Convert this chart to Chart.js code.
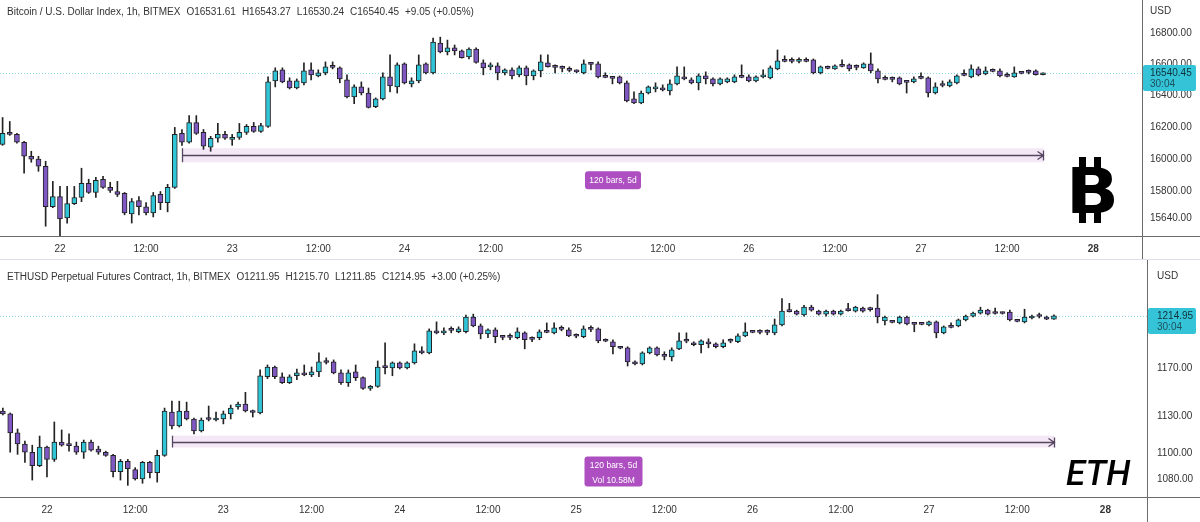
<!DOCTYPE html>
<html>
<head>
<meta charset="utf-8">
<script src="https://cdn.jsdelivr.net/npm/chart.js@4.4.0/dist/chart.umd.min.js"></script>
<style>
  html, body { margin: 0; padding: 0; background: #fff; overflow: hidden; }
  canvas { display: block; }
</style>
</head>
<body>
<canvas id="btcChart" width="1200" height="260"></canvas>
<canvas id="ethChart" width="1200" height="262"></canvas>
<script>
// hours counted from 22 00:00
var hourTicks = [0, 12, 24, 36, 48, 60, 72, 84, 96, 108, 120, 132, 144];
var hourTickLabels = ['22', '12:00', '23', '12:00', '24', '12:00', '25', '12:00', '26', '12:00', '27', '12:00', '28'];

// BTC / DXY, 1h candles, first one at 21 16:00
var btcFirstHour = -8;
var btcOpen = [
  16092, 16161, 16154, 16105, 16018, 16000, 15956, 15708, 15770, 15640,
  15727, 15764, 15851, 15795, 15876, 15826, 15801, 15789, 15665, 15745,
  15708, 15671, 15783, 15733, 15826, 16161, 16105, 16229, 16167, 16074,
  16130, 16154, 16123, 16136, 16167, 16204, 16173, 16204, 16492, 16563,
  16492, 16447, 16480, 16563, 16524, 16544, 16582, 16576, 16499, 16390,
  16454, 16415, 16328, 16378, 16518, 16454, 16601, 16473, 16492, 16601,
  16544, 16736, 16678, 16704, 16685, 16646, 16697, 16608, 16582, 16588,
  16544, 16563, 16531, 16576, 16524, 16556, 16608, 16582, 16576, 16563,
  16553, 16544, 16601, 16601, 16518, 16512, 16518, 16480, 16378, 16353,
  16415, 16441, 16447, 16428, 16473, 16518, 16499, 16480, 16524, 16505,
  16473, 16486, 16486, 16518, 16518, 16492, 16518, 16512, 16569, 16621,
  16621, 16617, 16621, 16627, 16544, 16576, 16569, 16588, 16595, 16582,
  16576, 16601, 16556, 16505, 16505, 16512, 16486, 16486, 16512, 16512,
  16415, 16467, 16460, 16480, 16531, 16518, 16569, 16537, 16556, 16556,
  16524, 16518, 16544, 16550, 16556, 16531.61
];
var btcHigh = [
  16260, 16235, 16161, 16111, 16049, 16018, 15987, 15863, 15832, 15832,
  15832, 15944, 15876, 15888, 15894, 15857, 15863, 15795, 15758, 15770,
  15733, 15795, 15801, 15845, 16198, 16185, 16272, 16272, 16185, 16142,
  16223, 16173, 16154, 16223, 16216, 16229, 16223, 16518, 16576, 16576,
  16512, 16505, 16608, 16608, 16563, 16614, 16614, 16582, 16531, 16467,
  16486, 16447, 16384, 16544, 16659, 16608, 16608, 16512, 16659, 16608,
  16768, 16774, 16755, 16723, 16691, 16704, 16704, 16627, 16608, 16608,
  16569, 16576, 16588, 16588, 16563, 16659, 16659, 16595, 16588, 16582,
  16563, 16627, 16608, 16614, 16544, 16518, 16524, 16492, 16422, 16428,
  16460, 16480, 16467, 16499, 16582, 16582, 16512, 16537, 16550, 16512,
  16512, 16512, 16531, 16595, 16531, 16524, 16563, 16588, 16691, 16653,
  16640, 16640, 16640, 16633, 16588, 16588, 16595, 16627, 16601, 16595,
  16608, 16672, 16569, 16524, 16518, 16518, 16492, 16518, 16544, 16518,
  16480, 16492, 16499, 16531, 16563, 16595, 16582, 16582, 16569, 16569,
  16544, 16582, 16550, 16563, 16563, 16543.27
];
var btcLow = [
  16086, 16148, 16099, 15913, 15981, 15925, 15590, 15702, 15522, 15609,
  15721, 15739, 15789, 15764, 15820, 15795, 15770, 15659, 15609, 15659,
  15659, 15646, 15690, 15677, 15820, 16086, 16099, 16154, 16061, 16049,
  16105, 16123, 16086, 16123, 16154, 16167, 16167, 16198, 16454, 16480,
  16441, 16441, 16467, 16499, 16518, 16531, 16569, 16480, 16384, 16347,
  16403, 16320, 16322, 16371, 16422, 16415, 16473, 16454, 16480, 16537,
  16537, 16672, 16659, 16659, 16638, 16633, 16606, 16531, 16563, 16499,
  16531, 16505, 16518, 16467, 16499, 16518, 16580, 16544, 16550, 16550,
  16544, 16537, 16563, 16512, 16512, 16473, 16473, 16359, 16347, 16347,
  16409, 16422, 16428, 16403, 16467, 16499, 16473, 16435, 16473, 16460,
  16467, 16480, 16480, 16512, 16486, 16486, 16512, 16505, 16563, 16614,
  16608, 16608, 16614, 16537, 16537, 16569, 16566, 16582, 16556, 16563,
  16572, 16544, 16480, 16499, 16486, 16467, 16415, 16480, 16505, 16390,
  16409, 16454, 16454, 16473, 16524, 16512, 16524, 16531, 16550, 16518,
  16518, 16515, 16537, 16537, 16529, 16530.24
];
var btcClose = [
  16161, 16154, 16105, 16018, 16000, 15956, 15708, 15770, 15634, 15727,
  15764, 15851, 15795, 15869, 15826, 15807, 15783, 15671, 15739, 15708,
  15671, 15776, 15733, 15826, 16154, 16105, 16229, 16161, 16080, 16130,
  16154, 16130, 16136, 16167, 16204, 16173, 16210, 16486, 16556, 16486,
  16447, 16492, 16556, 16531, 16544, 16582, 16579, 16505, 16390, 16454,
  16415, 16324, 16378, 16518, 16460, 16595, 16480, 16492, 16595, 16544,
  16742, 16678, 16704, 16685, 16642, 16697, 16610, 16576, 16595, 16544,
  16563, 16524, 16576, 16524, 16556, 16614, 16583, 16579, 16572, 16560,
  16550, 16601, 16598, 16518, 16515, 16508, 16480, 16365, 16353, 16415,
  16454, 16454, 16435, 16473, 16524, 16505, 16480, 16524, 16505, 16473,
  16505, 16505, 16518, 16515, 16492, 16518, 16521, 16576, 16621, 16617,
  16617, 16621, 16617, 16544, 16582, 16572, 16588, 16585, 16569, 16579,
  16601, 16556, 16505, 16502, 16502, 16473, 16483, 16505, 16508, 16415,
  16454, 16463, 16486, 16524, 16528, 16569, 16531, 16556, 16553, 16524,
  16521, 16544, 16540, 16547, 16531.40, 16540.45
];
var btcPriceTicks = [15640, 15800, 16000, 16200, 16400, 16600, 16800];

// ETHUSD perpetual, 1h candles, first one at 21 18:00
var ethFirstHour = -6;
var ethOpen = [
  1134.3, 1131.9, 1116.5, 1107.6, 1101.1, 1090.5, 1105.1, 1095.4, 1109.2, 1106.7,
  1105.9, 1101.1, 1109.2, 1103.5, 1101.1, 1098.6, 1085.7, 1093.8, 1087.3, 1080.0,
  1093.0, 1084.9, 1098.6, 1133.5, 1122.1, 1134.3, 1127.8, 1118.1, 1127.8, 1127.0,
  1127.8, 1131.9, 1137.6, 1140.0, 1133.5, 1132.7, 1162.7, 1170.9, 1162.7, 1157.8,
  1163.5, 1165.9, 1164.3, 1166.8, 1175.2, 1175.2, 1165.9, 1157.8, 1166.8, 1161.9,
  1153.0, 1154.6, 1170.9, 1170.0, 1174.3, 1170.0, 1174.3, 1184.6, 1182.9, 1201.8,
  1200.1, 1202.7, 1201.0, 1201.0, 1213.9, 1206.1, 1199.2, 1202.7, 1196.7, 1196.7,
  1195.8, 1200.1, 1194.9, 1195.8, 1201.0, 1200.1, 1203.5, 1202.7, 1197.5, 1196.7,
  1203.5, 1203.5, 1193.2, 1192.4, 1187.2, 1187.2, 1175.2, 1173.4, 1182.9, 1187.2,
  1180.3, 1179.5, 1186.3, 1193.2, 1191.5, 1189.8, 1192.4, 1190.6, 1188.1, 1193.2,
  1192.4, 1197.5, 1201.0, 1201.0, 1201.0, 1200.1, 1207.0, 1219.0, 1219.0, 1215.6,
  1222.5, 1219.0, 1216.4, 1219.0, 1216.4, 1219.9, 1219.0, 1221.6, 1220.7, 1221.6,
  1210.4, 1209.6, 1208.7, 1213.9, 1207.8, 1207.8, 1207.0, 1209.6, 1200.1, 1205.3,
  1206.1, 1211.3, 1214.7, 1217.3, 1219.9, 1217.3, 1217.3, 1218.2, 1210.4, 1209.6,
  1213.0, 1214.7, 1213.9, 1211.95
];
var ethHigh = [
  1136.7, 1132.7, 1119.7, 1110.0, 1106.7, 1114.0, 1105.9, 1125.4, 1118.9, 1115.7,
  1109.2, 1110.8, 1110.8, 1105.9, 1101.9, 1099.4, 1095.4, 1095.4, 1088.9, 1093.8,
  1093.8, 1102.7, 1136.7, 1142.4, 1142.4, 1141.6, 1128.6, 1128.6, 1138.4, 1133.5,
  1134.3, 1139.2, 1141.6, 1149.7, 1135.1, 1168.4, 1172.6, 1171.7, 1165.9, 1164.3,
  1169.2, 1172.6, 1170.9, 1182.9, 1178.6, 1176.9, 1168.4, 1168.4, 1172.6, 1162.7,
  1155.4, 1176.0, 1191.5, 1175.2, 1175.2, 1175.2, 1190.6, 1188.1, 1203.5, 1209.6,
  1204.4, 1205.3, 1205.3, 1215.6, 1216.4, 1207.8, 1203.5, 1204.4, 1197.1, 1199.2,
  1204.4, 1201.0, 1196.7, 1202.7, 1208.7, 1208.7, 1206.1, 1204.4, 1199.2, 1206.1,
  1206.1, 1204.4, 1194.9, 1194.1, 1188.1, 1188.1, 1176.0, 1183.8, 1188.1, 1188.1,
  1183.8, 1187.2, 1200.1, 1200.1, 1192.4, 1194.1, 1194.9, 1191.5, 1194.1, 1194.9,
  1199.2, 1208.7, 1201.8, 1202.7, 1202.7, 1212.1, 1230.2, 1225.9, 1219.9, 1224.2,
  1224.2, 1219.9, 1219.9, 1219.9, 1219.9, 1225.9, 1223.3, 1222.5, 1222.5, 1233.6,
  1214.7, 1210.4, 1214.7, 1214.7, 1208.3, 1208.7, 1210.4, 1210.4, 1206.1, 1208.7,
  1212.1, 1215.6, 1218.2, 1222.5, 1220.7, 1221.6, 1218.2, 1219.9, 1211.3, 1220.7,
  1215.6, 1217.3, 1214.7, 1215.70
];
var ethLow = [
  1131.1, 1101.1, 1099.4, 1093.0, 1079.2, 1089.7, 1081.7, 1093.8, 1105.9, 1101.9,
  1099.4, 1096.2, 1101.9, 1099.4, 1097.8, 1081.7, 1079.2, 1075.1, 1079.2, 1076.7,
  1080.9, 1077.6, 1097.8, 1119.7, 1121.3, 1127.0, 1115.7, 1117.3, 1126.2, 1126.2,
  1123.8, 1127.8, 1135.9, 1133.5, 1129.4, 1131.9, 1161.1, 1161.1, 1157.0, 1157.0,
  1160.3, 1163.5, 1162.7, 1162.7, 1173.4, 1165.1, 1156.2, 1154.6, 1159.5, 1152.2,
  1151.3, 1153.8, 1165.1, 1163.5, 1169.2, 1169.2, 1173.4, 1182.0, 1182.0, 1199.2,
  1198.4, 1200.1, 1200.1, 1200.1, 1205.3, 1194.9, 1195.8, 1191.5, 1194.1, 1194.1,
  1194.9, 1186.3, 1192.4, 1194.1, 1200.1, 1199.2, 1201.8, 1196.7, 1195.8, 1195.8,
  1201.0, 1191.5, 1192.4, 1182.0, 1186.3, 1171.7, 1172.6, 1172.6, 1182.0, 1180.3,
  1176.9, 1176.0, 1185.5, 1191.5, 1188.9, 1182.9, 1187.2, 1187.2, 1187.2, 1191.5,
  1191.5, 1196.7, 1200.1, 1199.2, 1198.4, 1198.4, 1206.1, 1218.2, 1215.6, 1214.7,
  1219.0, 1215.6, 1214.7, 1215.6, 1215.6, 1219.0, 1218.2, 1218.2, 1219.0, 1208.7,
  1207.0, 1208.7, 1207.8, 1207.0, 1201.0, 1207.0, 1206.1, 1195.8, 1199.2, 1204.4,
  1205.3, 1210.4, 1213.9, 1216.4, 1215.6, 1216.4, 1216.4, 1210.4, 1209.6, 1208.7,
  1212.1, 1213.0, 1211.5, 1211.85
];
var ethClose = [
  1131.9, 1116.5, 1107.6, 1101.1, 1090.5, 1105.1, 1095.4, 1109.2, 1106.7, 1106.3,
  1101.1, 1109.2, 1102.7, 1101.1, 1098.6, 1085.7, 1093.8, 1088.1, 1080.0, 1093.0,
  1084.9, 1098.6, 1134.3, 1122.1, 1134.3, 1127.8, 1118.1, 1127.0, 1127.4, 1128.6,
  1131.9, 1136.7, 1140.0, 1134.3, 1133.1, 1163.5, 1170.9, 1162.7, 1157.8, 1162.7,
  1165.9, 1164.3, 1166.8, 1175.2, 1174.7, 1165.9, 1157.8, 1165.9, 1161.9, 1153.0,
  1154.6, 1170.9, 1170.4, 1174.3, 1170.0, 1174.3, 1184.6, 1182.9, 1201.8, 1200.1,
  1201.8, 1202.2, 1203.5, 1213.9, 1206.1, 1199.2, 1202.7, 1196.7, 1196.2, 1196.2,
  1201.0, 1194.1, 1194.5, 1201.0, 1200.5, 1204.4, 1203.1, 1197.5, 1197.1, 1203.5,
  1203.1, 1193.2, 1192.8, 1188.1, 1186.8, 1175.2, 1173.4, 1182.9, 1187.2, 1181.2,
  1179.9, 1185.5, 1193.2, 1192.8, 1189.8, 1193.2, 1190.6, 1188.1, 1191.5, 1192.8,
  1197.5, 1201.0, 1200.5, 1200.5, 1200.5, 1207.0, 1219.0, 1218.6, 1216.4, 1222.5,
  1219.9, 1216.4, 1219.0, 1216.4, 1219.0, 1219.5, 1222.5, 1219.0, 1220.3, 1213.9,
  1213.9, 1209.1, 1213.9, 1207.8, 1207.4, 1207.4, 1209.6, 1200.1, 1205.3, 1204.8,
  1211.3, 1214.7, 1217.3, 1219.9, 1216.4, 1216.9, 1216.9, 1211.3, 1210.0, 1213.9,
  1214.7, 1214.3, 1211.95, 1214.95
];
var ethPriceTicks = [1080, 1100, 1130, 1170];

var BULL = '#2fc4d6';
var BEAR = '#7e57c2';
var EDGE = '#222222';
var TEXT = '#333333';
var AXIS_LINE = '#6b6b6b';
var FONT = '"Liberation Sans", Arial, sans-serif';
Chart.defaults.font.family = FONT;

function roundRect(ctx, x, y, w, h, r) {
  ctx.beginPath();
  ctx.moveTo(x + r, y);
  ctx.arcTo(x + w, y, x + w, y + h, r);
  ctx.arcTo(x + w, y + h, x, y + h, r);
  ctx.arcTo(x, y + h, x, y, r);
  ctx.arcTo(x, y, x + w, y, r);
  ctx.closePath();
}

// no extra room for half tick labels, the plot should fill the panel
function noPadding(s) {
  s.paddingTop = 0; s.paddingBottom = 0; s.paddingLeft = 0; s.paddingRight = 0;
}

function overlay(p) {
  return {
    id: 'overlay',
    beforeDatasetsDraw: function(chart) {
      var ctx = chart.ctx, area = chart.chartArea, y = chart.scales.y;
      var last = p.close[p.close.length - 1];
      var py = Math.round(y.getPixelForValue(last)) + 0.5;
      ctx.save();
      ctx.strokeStyle = '#8fd8e3';
      ctx.lineWidth = 1;
      ctx.setLineDash([1, 2]);
      ctx.beginPath();
      ctx.moveTo(area.left, py);
      ctx.lineTo(area.right, py);
      ctx.stroke();
      ctx.restore();
    },
    afterDatasetsDraw: function(chart) {
      var ctx = chart.ctx, x = chart.scales.x, y = chart.scales.y, m = p.measure;
      var x1 = Math.round(x.getPixelForValue(m.from)) + 0.5;
      var x2 = Math.round(x.getPixelForValue(m.to)) + 0.5;
      var yt = y.getPixelForValue(m.top), yb = y.getPixelForValue(m.bottom);
      var ym = Math.round(y.getPixelForValue(m.mid)) + 0.5;
      ctx.save();
      ctx.fillStyle = 'rgba(156, 39, 176, 0.11)';
      ctx.fillRect(x1, yt, x2 - x1, yb - yt);
      ctx.strokeStyle = '#54465e';
      ctx.lineWidth = 1.3;
      ctx.beginPath();
      ctx.moveTo(x1, ym); ctx.lineTo(x2, ym);
      ctx.moveTo(x1, yt); ctx.lineTo(x1, yb);
      ctx.moveTo(x2, ym - 5); ctx.lineTo(x2, ym + 5);
      ctx.moveTo(x2 - 6, ym - 4); ctx.lineTo(x2, ym); ctx.lineTo(x2 - 6, ym + 4);
      ctx.stroke();
      var cx = (x1 + x2) / 2, bw = p.measureBoxWidth, bh = 6 + 12 * m.lines.length;
      var by = yb + 9;
      ctx.fillStyle = '#ad4fc0';
      roundRect(ctx, cx - bw / 2, by, bw, bh, 3);
      ctx.fill();
      ctx.fillStyle = '#ffffff';
      ctx.font = '8.5px ' + FONT;
      ctx.textAlign = 'center';
      ctx.textBaseline = 'middle';
      m.lines.forEach(function(t, i) { ctx.fillText(t, cx, by + 9 + i * 15); });
      ctx.restore();
    },
    afterDraw: function(chart) {
      var ctx = chart.ctx, area = chart.chartArea, y = chart.scales.y;
      var W = chart.width, H = chart.height;
      var n = p.close.length;
      ctx.save();
      // panel frame lines
      ctx.strokeStyle = AXIS_LINE;
      ctx.lineWidth = 1;
      ctx.beginPath();
      ctx.moveTo(0, area.bottom + 0.5); ctx.lineTo(W, area.bottom + 0.5);
      ctx.moveTo(area.right + 0.5, 0); ctx.lineTo(area.right + 0.5, H);
      ctx.stroke();
      if (p.separator) {
        ctx.strokeStyle = '#dcdfe6';
        ctx.beginPath();
        ctx.moveTo(0, H - 0.5); ctx.lineTo(W, H - 0.5);
        ctx.stroke();
      }
      // legend line
      ctx.fillStyle = TEXT;
      ctx.font = '10px ' + FONT;
      ctx.textAlign = 'left';
      ctx.textBaseline = 'middle';
      var chg = p.close[n - 1] - p.close[n - 2];
      var pct = chg / p.close[n - 2] * 100;
      var parts = [p.title,
        'O' + p.open[n - 1].toFixed(2), 'H' + p.high[n - 1].toFixed(2),
        'L' + p.low[n - 1].toFixed(2), 'C' + p.close[n - 1].toFixed(2),
        (chg >= 0 ? '+' : '') + chg.toFixed(2) + ' (' + (pct >= 0 ? '+' : '') + pct.toFixed(2) + '%)'];
      var tx = 7;
      parts.forEach(function(t) { ctx.fillText(t, tx, p.headerY); tx += ctx.measureText(t).width + 6; });
      ctx.fillText('USD', area.right + p.tickPad, p.headerY - 1);
      // last price tag
      var py = Math.round(y.getPixelForValue(p.close[n - 1]));
      ctx.fillStyle = '#35c4d7';
      roundRect(ctx, area.right + 1, py - 8, W - area.right - 5, 26, 2);
      ctx.fill();
      ctx.fillStyle = '#10303a';
      ctx.fillText(p.close[n - 1].toFixed(2), area.right + p.tickPad, py + 0.5);
      ctx.fillStyle = '#1d4f5c';
      ctx.fillText(p.countdown, area.right + p.tickPad, py + 11.5);
      // symbol mark
      ctx.fillStyle = '#000';
      ctx.textBaseline = 'alphabetic';
      if (p.mark === 'btc') {
        ctx.save();
        ctx.translate(1066, 213);
        ctx.scale(1.12, 1);
        ctx.font = 'bold 62px "DejaVu Sans"';
        ctx.fillText('B', 0, 0);
        ctx.restore();
        ctx.fillRect(1079, 157, 7, 12); ctx.fillRect(1094, 157, 7, 12);
        ctx.fillRect(1079, 211, 7, 12); ctx.fillRect(1094, 211, 7, 12);
      } else {
        ctx.font = 'italic 500 35px Roboto';
        ctx.fillText(p.mark, 1066, 225);
      }
      ctx.restore();
    }
  };
}

function candleChart(id, p) {
  var bodies = [], wicks = [], colors = [];
  for (var i = 0; i < p.open.length; i++) {
    var h = p.firstHour + i, o = p.open[i], c = p.close[i];
    bodies.push({ x: h, y: [Math.min(o, c), Math.max(o, c)] });
    wicks.push({ x: h, y: [p.low[i], p.high[i]] });
    colors.push(c >= o ? BULL : BEAR);
  }
  return new Chart(document.getElementById(id), {
    type: 'bar',
    data: {
      datasets: [{
        data: bodies,
        backgroundColor: colors,
        borderColor: EDGE,
        borderWidth: 1,
        borderSkipped: false,
        barThickness: 5,
        minBarLength: 2,
        grouped: false,
        order: 0
      }, {
        data: wicks,
        backgroundColor: EDGE,
        borderWidth: 0,
        barThickness: 1,
        grouped: false,
        order: 1
      }]
    },
    options: {
      responsive: false,
      animation: false,
      events: [],
      layout: { padding: 0 },
      plugins: { legend: { display: false }, tooltip: { enabled: false } },
      scales: {
        x: {
          type: 'linear',
          min: p.xMin,
          max: p.xMax,
          offset: false,
          grid: { display: false, drawTicks: false },
          border: { display: false },
          afterBuildTicks: function(s) { s.ticks = hourTicks.map(function(v) { return { value: v }; }); },
          afterFit: function(s) { s.height = p.axisHeight; noPadding(s); },
          ticks: {
            autoSkip: false,
            maxRotation: 0,
            padding: 7,
            color: TEXT,
            font: function(ctx) {
              return { family: FONT, size: 10, weight: ctx.index === hourTicks.length - 1 ? 'bold' : 'normal' };
            },
            callback: function(v, i) { return hourTickLabels[i]; }
          }
        },
        y: {
          type: 'logarithmic',
          position: 'right',
          min: p.yMin,
          max: p.yMax,
          grid: { display: false, drawTicks: false },
          border: { display: false },
          afterBuildTicks: function(s) { s.ticks = p.priceTicks.map(function(v) { return { value: v }; }); },
          afterFit: function(s) { s.width = p.axisWidth; noPadding(s); },
          ticks: {
            padding: p.tickPad,
            color: TEXT,
            font: { family: FONT, size: 10 },
            callback: function(v) { return Number(v).toFixed(2); }
          }
        }
      }
    },
    plugins: [overlay(p)]
  });
}

candleChart('btcChart', {
  title: 'Bitcoin / U.S. Dollar Index, 1h, BITMEX',
  firstHour: btcFirstHour, open: btcOpen, high: btcHigh, low: btcLow, close: btcClose,
  priceTicks: btcPriceTicks,
  xMin: -8.36, xMax: 150.8, yMin: 15531, yMax: 17017,
  axisWidth: 58, axisHeight: 24, tickPad: 8, headerY: 12,
  measure: { from: 17, to: 137, top: 16068, mid: 16024, bottom: 15981, lines: ['120 bars, 5d'] },
  measureBoxWidth: 56,
  countdown: '30:04', mark: 'btc', separator: true
});

candleChart('ethChart', {
  title: 'ETHUSD Perpetual Futures Contract, 1h, BITMEX',
  firstHour: ethFirstHour, open: ethOpen, high: ethHigh, low: ethLow, close: ethClose,
  priceTicks: ethPriceTicks,
  xMin: -6.39, xMax: 149.66, yMin: 1066.1, yMax: 1264.8,
  axisWidth: 53, axisHeight: 25, tickPad: 10, headerY: 17,
  measure: { from: 17, to: 137, top: 1114.3, mid: 1108.9, bottom: 1104.9, lines: ['120 bars, 5d', 'Vol 10.58M'] },
  measureBoxWidth: 58,
  countdown: '30:04', mark: 'ETH', separator: false
});
</script>
</body>
</html>
